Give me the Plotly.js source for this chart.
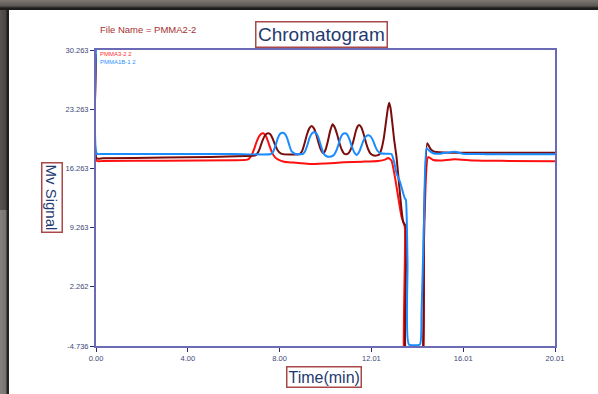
<!DOCTYPE html>
<html>
<head>
<meta charset="utf-8">
<script src="https://cdn.plot.ly/plotly-3.0.1.min.js"></script>
<style>
  html, body { margin: 0; padding: 0; width: 598px; height: 394px; overflow: hidden; }
  body { position: relative; background: #3a3735; }
  #topbar { position: absolute; left: 0; top: 0; width: 598px; height: 10px;
            background: linear-gradient(to bottom, #7d7873 0px, #5a5652 6px, #1e1d1c 8px, #1e1d1c 10px); }
  #leftbar1 { position: absolute; left: 0; top: 10px; width: 9px; height: 200px;
              background: linear-gradient(to right, #575350 0px, #4a4644 6px, #1e1d1c 7px); }
  #leftbar2 { position: absolute; left: 0; top: 210px; width: 9px; height: 184px;
              background: linear-gradient(to right, #85817d 0px, #77736f 6px, #222 7px); }
  #chart { position: absolute; left: 9px; top: 10px; width: 589px; height: 384px; }
</style>
</head>
<body>
<div id="topbar"></div>
<div id="leftbar1"></div>
<div id="leftbar2"></div>
<div id="chart"></div>
<script>
// ---- data ----
const seriesNames = ["PMMA3-2 2", "PMMA2-2", "PMMA1B-1 2"];

const redTime = [0, 0.03, 0.3, 3, 6, 6.6, 6.7, 6.8, 6.9, 7.0, 7.1, 7.2, 7.29, 7.38, 7.48, 7.58, 7.68, 7.8, 7.95, 8.2, 8.6, 9.3, 10.0, 10.8, 11.63, 12.3, 12.6, 12.74, 12.88, 13.03, 13.32, 13.46, 13.54, 14.12, 14.3, 14.48, 14.7, 15.0, 15.64, 16.5, 18, 20.01];
const redSignal = [29.8, 17.15, 17.14, 17.18, 17.22, 17.3, 17.5, 17.9, 18.6, 19.4, 20.0, 20.35, 20.41, 20.2, 19.6, 18.8, 18.1, 17.6, 17.3, 17.05, 16.95, 16.78, 16.85, 16.98, 17.06, 17.15, 17.3, 17.49, 17.2, 15.28, 10.55, 9.37, -10, -10, 8, 17.6, 17.26, 17.2, 17.35, 17.2, 17.15, 17.1];

const maroonTime = [0, 0.03, 0.3, 3, 5, 6.5, 6.95, 7.05, 7.15, 7.25, 7.35, 7.45, 7.51, 7.6, 7.7, 7.8, 7.9, 8.0, 8.15, 8.45, 8.85, 8.9, 9.0, 9.1, 9.2, 9.3, 9.4, 9.5, 9.6, 9.7, 9.8, 9.91, 10.01, 10.11, 10.21, 10.31, 10.41, 10.51, 10.61, 10.71, 10.82, 10.92, 11.02, 11.12, 11.22, 11.32, 11.4, 11.47, 11.57, 11.67, 11.77, 11.87, 11.97, 12.16, 12.35, 12.45, 12.55, 12.65, 12.72, 12.78, 12.84, 12.92, 13.0, 13.1, 13.25, 13.39, 13.51, 13.58, 14.1, 14.3, 14.44, 14.6, 14.75, 15.5, 16.5, 18, 20.01];
const maroonSignal = [29.5, 17.45, 17.45, 17.55, 17.62, 17.72, 17.8, 18.1, 18.7, 19.5, 20.1, 20.38, 20.41, 20.3, 19.8, 19.1, 18.5, 18.15, 17.95, 17.9, 17.92, 18.0, 18.4, 19.3, 20.3, 21.0, 21.28, 21.0, 20.3, 19.3, 18.5, 18.05, 18.5, 19.5, 20.7, 21.48, 21.1, 20.3, 19.3, 18.5, 18.0, 17.93, 18.1, 18.6, 19.5, 20.6, 21.2, 21.4, 21.1, 20.3, 19.3, 18.5, 18.0, 17.76, 17.9, 18.6, 19.9, 21.9, 23.3, 24.03, 23.4, 21.6, 19.6, 17.65, 13.32, 9.96, 9.37, -10, -10, 10, 19.23, 18.5, 18.24, 18.12, 18.12, 18.12, 18.12];

const blueTime = [0, 0.04, 0.3, 2, 4, 6, 7.63, 7.73, 7.83, 7.93, 8.03, 8.13, 8.23, 8.33, 8.43, 8.53, 8.7, 9.01, 9.11, 9.21, 9.31, 9.41, 9.51, 9.61, 9.71, 9.81, 9.91, 10.05, 10.2, 10.35, 10.45, 10.55, 10.65, 10.75, 10.85, 10.95, 11.05, 11.15, 11.25, 11.36, 11.47, 11.57, 11.67, 11.77, 11.87, 11.97, 12.07, 12.17, 12.27, 12.4, 12.7, 12.88, 13.0, 13.1, 13.25, 13.46, 13.51, 13.58, 13.64, 14.12, 14.19, 14.3, 14.41, 14.55, 14.7, 15.0, 15.64, 16.0, 17, 18, 19, 20.01];
const blueSignal = [30.6, 18.0, 17.98, 17.97, 17.98, 17.97, 17.97, 18.27, 18.98, 19.86, 20.36, 20.49, 20.36, 19.86, 18.98, 18.27, 17.97, 17.97, 18.27, 18.98, 19.86, 20.4, 20.53, 20.4, 19.8, 18.9, 18.1, 17.7, 17.65, 17.8, 18.2, 18.9, 19.8, 20.3, 20.41, 20.28, 19.7, 18.9, 18.2, 17.85, 18.2, 18.9, 19.6, 20.05, 20.18, 20.05, 19.6, 18.9, 18.35, 18.05, 18.0, 17.97, 17.0, 15.68, 14.69, 12.73, 12.53, 5, -4.55, -4.55, -1, 10, 18.64, 18.3, 18.05, 18.0, 18.24, 18.0, 17.95, 17.95, 17.93, 17.93];

const xTickVals = [0, 4.002, 8.004, 12.006, 16.008, 20.01];
const xTickText = ["0.00", "4.00", "8.00", "12.01", "16.01", "20.01"];
const yTickVals = [-4.736, 2.262, 9.263, 16.263, 23.263, 30.263];
const yTickText = ["-4.736", "2.262", "9.263", "16.263", "23.263", "30.263"];

const FONT = "Liberation Sans, Arial, sans-serif";
const lineShape = {shape: "spline", smoothing: 0.5, width: 2};

const traces = [
  {x: redTime, y: redSignal, name: seriesNames[0], mode: "lines",
   line: Object.assign({color: "#ff1010"}, lineShape)},
  {x: maroonTime, y: maroonSignal, name: seriesNames[1], mode: "lines",
   line: Object.assign({color: "#7a0c0c"}, lineShape)},
  {x: blueTime, y: blueSignal, name: seriesNames[2], mode: "lines",
   line: Object.assign({color: "#1a8cff"}, lineShape)}
];

const axisCommon = {
  showgrid: false, zeroline: false, showline: true, mirror: true,
  linecolor: "#6b6bb5", linewidth: 2,
  ticks: "outside", ticklen: 4, tickwidth: 1, tickcolor: "#2a2a80",
  tickfont: {family: FONT, size: 7.5, color: "#3c4878"},
  tickmode: "array", fixedrange: true
};

const layout = {
  width: 589, height: 384,
  margin: {l: 87, r: 43, t: 40, b: 48},
  paper_bgcolor: "#ffffff", plot_bgcolor: "#ffffff",
  showlegend: false,
  xaxis: Object.assign({}, axisCommon, {range: [0, 20.01], tickvals: xTickVals, ticktext: xTickText}),
  yaxis: Object.assign({}, axisCommon, {range: [-4.736, 30.263], tickvals: yTickVals, ticktext: yTickText}),
  annotations: [
    {xref: "paper", yref: "paper", x: 0.492, y: 1.052, xanchor: "center", yanchor: "middle",
     text: "Chromatogram", showarrow: false,
     font: {family: FONT, size: 19, color: "#1f3a70"},
     bordercolor: "#a84848", borderwidth: 1.5, borderpad: 1.5, bgcolor: "#ffffff"},
    {xref: "paper", yref: "paper", x: 0.004, y: 1.0676, xanchor: "left", yanchor: "middle",
     text: "File Name = " + seriesNames[1], showarrow: false,
     font: {family: FONT, size: 9.5, color: "#a5302f"}},
    {xref: "paper", yref: "paper", x: 0.004, y: (346 - 54) / 296, xanchor: "left", yanchor: "middle",
     text: seriesNames[0], showarrow: false,
     font: {family: FONT, size: 6, color: "#ff3030"}},
    {xref: "paper", yref: "paper", x: 0.004, y: (346 - 62) / 296, xanchor: "left", yanchor: "middle",
     text: seriesNames[2], showarrow: false,
     font: {family: FONT, size: 6, color: "#2a90ff"}},
    {xref: "paper", yref: "paper", x: -0.0959, y: (346 - 198) / 296, xanchor: "center", yanchor: "middle",
     text: "Mv Signal", showarrow: false, textangle: 90,
     font: {family: FONT, size: 15, color: "#1f3a70"},
     bordercolor: "#a84848", borderwidth: 1.5, borderpad: 1},
    {xref: "paper", yref: "paper", x: 0.4967, y: -0.1047, xanchor: "center", yanchor: "middle",
     text: "Time(min)", showarrow: false,
     font: {family: FONT, size: 16, color: "#1f3a70"},
     bordercolor: "#a84848", borderwidth: 1.5, borderpad: 1}
  ]
};

Plotly.newPlot("chart", traces, layout, {displayModeBar: false, staticPlot: true});
</script>
</body>
</html>
